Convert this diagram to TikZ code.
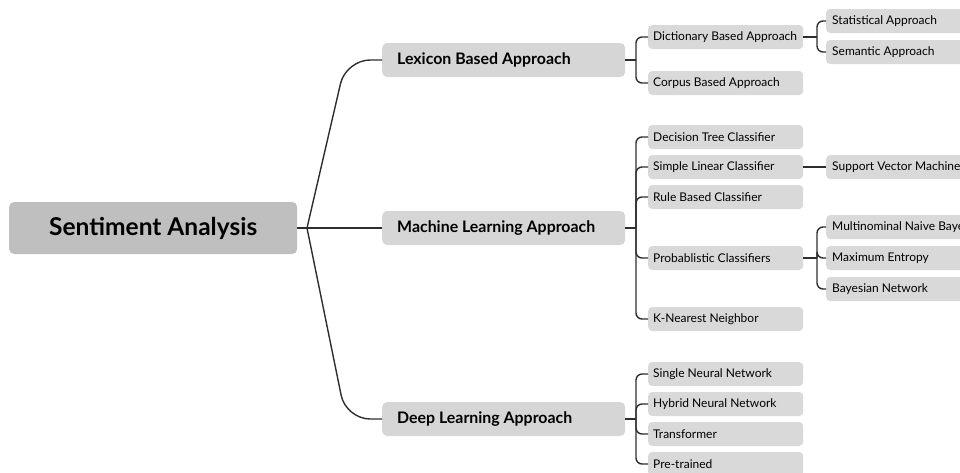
\documentclass[tikz,border=0pt]{standalone}
\usepackage{fontspec}
\setmainfont{Lato}
\begin{document}
\begin{tikzpicture}[x=1pt,y=-1pt,
  conn/.style={draw=black!82, line width=1.4pt},
  % left-aligned text in a fixed-width line, never wrapped
  leftline/.style={execute at begin node={\hbox to #1\bgroup}, execute at end node={\hfil\egroup}},
  rootbox/.style={fill=black!25, rounded corners=5pt, minimum width=288pt, minimum height=52pt,
    inner sep=0pt, font=\fontsize{24.5}{28}\selectfont\bfseries, anchor=west},
  lone/.style={fill=black!16, rounded corners=5pt, minimum height=34pt, inner xsep=15pt, inner ysep=0pt,
    leftline=213pt, font=\fontsize{15.9}{18}\selectfont\bfseries, anchor=west},
  ltwo/.style={fill=black!15, rounded corners=4pt, minimum height=24pt, inner xsep=5pt, inner ysep=0pt,
    leftline=145pt, font=\fontsize{12}{14}\selectfont, anchor=west},
  lthree/.style={fill=black!15, rounded corners=4pt, minimum height=24pt, inner xsep=6pt, inner ysep=0pt,
    leftline=160pt, font=\fontsize{12}{14}\selectfont, anchor=west}
]
\useasboundingbox (0,0) rectangle (960,472);
\clip (0,0) rectangle (960,472);

% root and main branches
\node[rootbox] (root) at (9,228) {Sentiment Analysis};
\node[lone] (lex)  at (382,60)  {Lexicon Based Approach};
\node[lone] (ml)   at (382,228) {Machine Learning Approach};
\node[lone] (deep) at (382,419) {Deep Learning Approach};

% lexicon children
\node[ltwo] (dict)   at (648,37) {Dictionary Based Approach};
\node[ltwo] (corpus) at (648,83) {Corpus Based Approach};
\node[lthree] (stat) at (826,21) {Statistical Approach};
\node[lthree] (sem)  at (826,52) {Semantic Approach};

% machine learning children
\node[ltwo] (dtree) at (648,137) {Decision Tree Classifier};
\node[ltwo] (slin)  at (648,167) {Simple Linear Classifier};
\node[ltwo] (rule)  at (648,197) {Rule Based Classifier};
\node[ltwo] (prob)  at (648,258) {Probablistic Classifiers};
\node[ltwo] (knn)   at (648,319) {K-Nearest Neighbor};
\node[lthree] (svm)    at (826,167) {Support Vector Machine};
\node[lthree] (mnb)    at (826,227) {Multinominal Naive Bayes};
\node[lthree] (maxent) at (826,258) {Maximum Entropy};
\node[lthree] (bayes)  at (826,289) {Bayesian Network};

% deep learning children
\node[ltwo] (snn)   at (648,374) {Single Neural Network};
\node[ltwo] (hnn)   at (648,404) {Hybrid Neural Network};
\node[ltwo] (trans) at (648,434) {Transformer};
\node[ltwo] (pre)   at (648,464) {Pre-trained};

% junction points
\coordinate (jr) at (307,228);
\coordinate (jlex) at (636,60);
\coordinate (jml) at (636,228);
\coordinate (jdeep) at (636,419);
\coordinate (jdict) at (817,37);
\coordinate (jprob) at (817,258);

% root to main branches
\draw[conn] (root.east) -- (jr);
\draw[conn, rounded corners=24pt] (jr) -- (346,60) -- (lex.west);
\draw[conn] (jr) -- (ml.west);
\draw[conn, rounded corners=24pt] (jr) -- (346,419) -- (deep.west);

% second level
\draw[conn] (lex.east) -- (jlex);
\foreach \c in {dict,corpus} \draw[conn, rounded corners=6pt] (jlex) |- (\c.west);
\draw[conn] (ml.east) -- (jml);
\foreach \c in {dtree,slin,rule,prob,knn} \draw[conn, rounded corners=6pt] (jml) |- (\c.west);
\draw[conn] (deep.east) -- (jdeep);
\foreach \c in {snn,hnn,trans,pre} \draw[conn, rounded corners=6pt] (jdeep) |- (\c.west);

% third level
\draw[conn] (dict.east) -- (jdict);
\foreach \c in {stat,sem} \draw[conn, rounded corners=6pt] (jdict) |- (\c.west);
\draw[conn] (slin.east) -- (svm.west);
\draw[conn] (prob.east) -- (jprob);
\foreach \c in {mnb,maxent,bayes} \draw[conn, rounded corners=6pt] (jprob) |- (\c.west);
\end{tikzpicture}
\end{document}
